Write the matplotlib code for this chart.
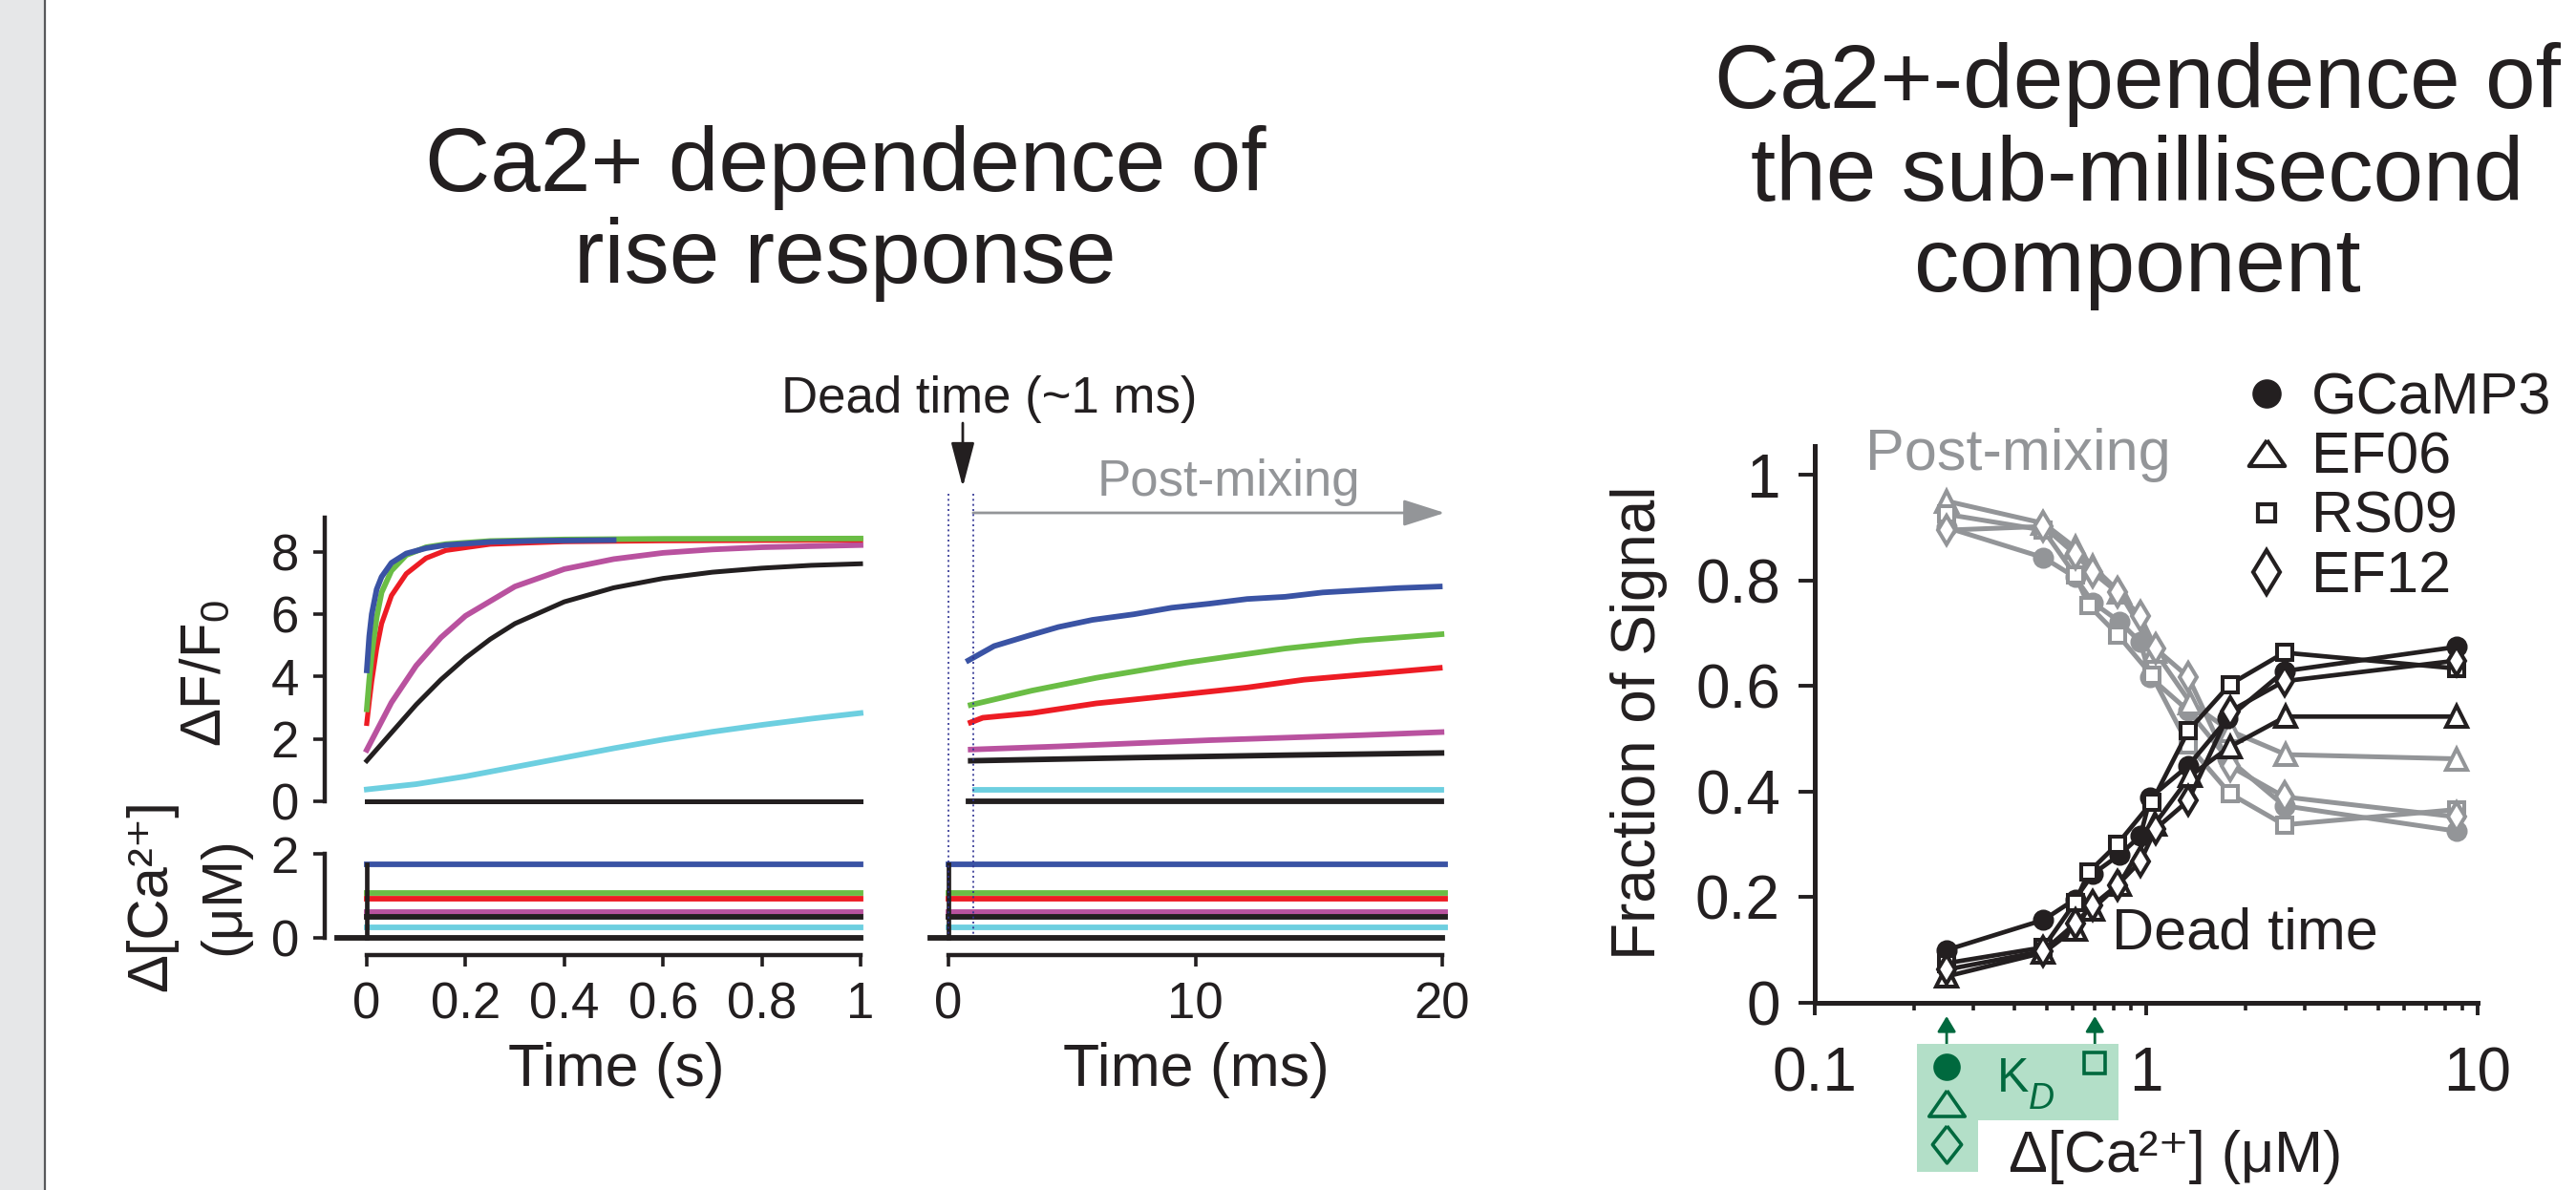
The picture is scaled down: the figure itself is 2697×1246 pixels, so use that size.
import matplotlib
matplotlib.use("Agg")
import matplotlib.pyplot as plt
import matplotlib.transforms as mtrans
from matplotlib.patches import Polygon, FancyArrowPatch, Rectangle
from matplotlib.lines import Line2D
from matplotlib.ticker import FixedLocator, NullFormatter

plt.rcParams['font.family'] = ['Liberation Sans', 'DejaVu Sans']
plt.rcParams['mathtext.fontset'] = 'custom'
plt.rcParams['mathtext.rm'] = 'Liberation Sans'
plt.rcParams['mathtext.it'] = 'Liberation Sans:italic'

INK = '#231f20'
GREY = '#939598'
NAVY = '#2e3192'
DKGREEN = '#00693e'
LTGREEN = '#b3dfc8'

# ---------------- data: slow rise, dF/F0 vs time (s)
blue_t = [0, 0.005, 0.01, 0.02, 0.03, 0.05, 0.08, 0.12, 0.16, 0.25, 0.35, 0.5]
blue_v = [4.2, 5.3, 6.0, 6.8, 7.2, 7.65, 7.95, 8.12, 8.22, 8.32, 8.36, 8.38]
green_t = [0, 0.005, 0.01, 0.02, 0.03, 0.05, 0.08, 0.12, 0.16, 0.25, 0.4, 0.6, 1.0]
green_v = [2.95, 3.9, 4.7, 5.9, 6.7, 7.4, 7.9, 8.15, 8.25, 8.35, 8.4, 8.42, 8.43]
red_t = [0, 0.005, 0.01, 0.02, 0.03, 0.05, 0.08, 0.12, 0.16, 0.25, 0.4, 0.6, 1.0]
red_v = [2.5, 3.2, 3.85, 4.9, 5.7, 6.6, 7.3, 7.8, 8.05, 8.25, 8.33, 8.36, 8.38]
mag_t = [0, 0.05, 0.1, 0.15, 0.2, 0.3, 0.4, 0.5, 0.6, 0.7, 0.8, 1.0]
mag_v = [1.65, 3.17, 4.35, 5.25, 5.95, 6.89, 7.45, 7.77, 7.97, 8.08, 8.15, 8.22]
blk_t = [0, 0.05, 0.1, 0.15, 0.2, 0.25, 0.3, 0.4, 0.5, 0.6, 0.7, 0.8, 0.9, 1.0]
blk_v = [1.3, 2.2, 3.1, 3.9, 4.6, 5.2, 5.7, 6.4, 6.85, 7.15, 7.35, 7.48, 7.57, 7.62]
cyan_t = [0, 0.1, 0.2, 0.3, 0.4, 0.5, 0.6, 0.7, 0.8, 0.9, 1.0]
cyan_v = [0.38, 0.55, 0.8, 1.1, 1.4, 1.7, 1.98, 2.23, 2.45, 2.65, 2.83]
zero_t = [0, 1.0]
zero_v = [0, 0]

# ---------------- data: first 20 ms after mixing (ms)
blue_ms = [0.81, 1.85, 3.23, 4.45, 5.83, 7.51, 9.04, 10.57, 12.1, 13.63, 15.16, 16.68, 18.21, 19.9]
blue_ms_v = [4.52, 4.98, 5.31, 5.59, 5.82, 6.0, 6.21, 6.34, 6.49, 6.56, 6.7, 6.77, 6.84, 6.89]
green_ms = [0.9, 3.38, 5.98, 9.65, 13.63, 16.68, 19.97]
green_ms_v = [3.09, 3.55, 3.96, 4.45, 4.9, 5.16, 5.36]
red_ms = [0.9, 1.39, 3.38, 5.98, 9.04, 12.1, 14.39, 17.45, 19.9]
red_ms_v = [2.53, 2.68, 2.83, 3.14, 3.39, 3.65, 3.9, 4.11, 4.28]
mag_ms = [0.9, 4.45, 10.57, 16.68, 19.97]
mag_ms_v = [1.66, 1.76, 1.96, 2.12, 2.22]
blk_ms = [0.9, 7.51, 13.63, 19.97]
blk_ms_v = [1.3, 1.4, 1.48, 1.55]
cyan_ms = [1.1, 19.97]
cyan_ms_v = [0.38, 0.38]
zero_ms = [0.8, 19.97]
zero_ms_v = [0, 0]

# calcium step size for each trace (uM), same order as colours
trace_colors = ['#3a53a4', '#6abd45', '#ed1c24', '#b9529f', INK, '#6dcfe0']
ca_step = [1.76, 1.07, 0.93, 0.61, 0.49, 0.25]
dead_ms = 1.0

# ---------------- data: fraction of signal vs d[Ca2+] (uM)
names = ['GCaMP3', 'EF06', 'RS09', 'EF12']
conc_gcamp3 = [0.25, 0.49, 0.61, 0.69, 0.83, 0.96, 1.03, 1.34, 1.76, 2.61, 8.65]
dead_gcamp3 = [0.100, 0.157, 0.196, 0.244, 0.280, 0.316, 0.389, 0.449, 0.538, 0.628, 0.674]
post_gcamp3 = [0.900, 0.843, 0.806, 0.758, 0.722, 0.683, 0.616, 0.553, 0.463, 0.373, 0.325]
conc_ef06 = [0.25, 0.49, 0.61, 0.69, 0.83, 1.06, 1.36, 1.79, 2.64, 8.65]
dead_ef06 = [0.050, 0.095, 0.140, 0.178, 0.225, 0.338, 0.430, 0.485, 0.542, 0.542]
post_ef06 = [0.950, 0.908, 0.862, 0.826, 0.778, 0.666, 0.568, 0.515, 0.470, 0.462]
conc_rs09 = [0.25, 0.49, 0.61, 0.67, 0.82, 1.04, 1.34, 1.79, 2.61, 8.65]
dead_rs09 = [0.075, 0.105, 0.190, 0.247, 0.301, 0.380, 0.515, 0.603, 0.663, 0.633]
post_rs09 = [0.925, 0.895, 0.810, 0.753, 0.697, 0.620, 0.488, 0.396, 0.337, 0.366]
conc_ef12 = [0.25, 0.49, 0.61, 0.69, 0.82, 0.96, 1.07, 1.34, 1.79, 2.61, 8.65]
dead_ef12 = [0.063, 0.098, 0.150, 0.185, 0.223, 0.268, 0.330, 0.383, 0.552, 0.609, 0.648]
post_ef12 = [0.895, 0.902, 0.850, 0.815, 0.777, 0.732, 0.670, 0.617, 0.448, 0.390, 0.352]
kd_gcamp3 = 0.25
kd_rs09 = 0.70

W, H = 2697, 1246
fig = plt.figure(figsize=(W / 100, H / 100), dpi=100)


def fx(x):
    return x / W


def fy(y):
    return 1 - y / H


def box(x0, x1, y0, y1):
    return [fx(x0), fy(y1), (x1 - x0) / W, (y1 - y0) / H]


# grey margin on the left
fig.patches.append(Rectangle((0, 0), fx(47), 1, transform=fig.transFigure,
                             facecolor='#e6e7e8', edgecolor='none', zorder=0))
fig.add_artist(Line2D([fx(47), fx(47)], [0, 1], color='#58595b', lw=1.6))

ax1 = fig.add_axes(box(384, 901, 542, 839))
ax2 = fig.add_axes(box(384, 901, 894, 982))
ax3 = fig.add_axes(box(993, 1510, 542, 839))
ax4 = fig.add_axes(box(993, 1510, 894, 982))
ax5 = fig.add_axes(box(1900, 2594, 466.6, 1050))

for ax in (ax1, ax2, ax3, ax4, ax5):
    ax.patch.set_alpha(0)
    for s in ax.spines.values():
        s.set_visible(False)
        s.set_linewidth(3.2)
        s.set_color(INK)

tick_kw = dict(length=8.6, width=2.6, pad=11, labelsize=38, color=INK, labelcolor=INK)
LW_COL = 4.2
LW_BLK = 3.6

# ---- left: whole second
ax1.set_xlim(0, 1)
ax1.set_ylim(0, 9.1)
ax1.spines['left'].set_visible(True)
ax1.spines['left'].set_position(('outward', 31.7))
ax1.set_yticks([0, 2, 4, 6, 8])
ax1.set_xticks([])
ax1.tick_params(axis='y', **tick_kw)
ax1.plot(zero_t, zero_v, color=INK, lw=LW_BLK, clip_on=False)
ax1.plot(cyan_t, cyan_v, color=trace_colors[5], lw=LW_COL, clip_on=False)
ax1.plot(blk_t, blk_v, color=INK, lw=LW_BLK, clip_on=False)
ax1.plot(mag_t, mag_v, color=trace_colors[3], lw=LW_COL, clip_on=False)
ax1.plot(red_t, red_v, color=trace_colors[2], lw=LW_COL - 0.4, clip_on=False)
ax1.plot(green_t, green_v, color=trace_colors[1], lw=LW_COL, clip_on=False)
ax1.plot(blue_t, blue_v, color=trace_colors[0], lw=LW_COL, clip_on=False)

ax2.set_xlim(0, 1)
ax2.set_ylim(0, 2)
ax2.spines['left'].set_visible(True)
ax2.spines['left'].set_position(('outward', 31.7))
ax2.spines['bottom'].set_visible(True)
ax2.spines['bottom'].set_position(('outward', 13))
ax2.set_yticks([0, 2])
ax2.set_xticks([0, 0.2, 0.4, 0.6, 0.8, 1.0])
ax2.set_xticklabels(['0', '0.2', '0.4', '0.6', '0.8', '1'])
ax2.tick_params(**tick_kw)
for c, lev in zip(trace_colors, ca_step):
    ax2.plot([0, 1], [lev, lev], color=c, lw=LW_COL, clip_on=False)
ax2.plot([-0.06, 1], [0, 0], color=INK, lw=LW_COL, clip_on=False)
ax2.plot([0, 0], [0, max(ca_step)], color=INK, lw=3.4, clip_on=False)

# ---- middle: first 20 ms
ax3.set_xlim(0, 20)
ax3.set_ylim(0, 9.1)
ax3.set_xticks([])
ax3.set_yticks([])
ms_list = [(blue_ms, blue_ms_v), (green_ms, green_ms_v), (red_ms, red_ms_v),
           (mag_ms, mag_ms_v), (blk_ms, blk_ms_v), (cyan_ms, cyan_ms_v)]
for c, (t, v) in zip(trace_colors, ms_list):
    ax3.plot(t, v, color=c, lw=LW_COL, clip_on=False)
ax3.plot(zero_ms, zero_ms_v, color=INK, lw=LW_COL, clip_on=False)

ax4.set_xlim(0, 20)
ax4.set_ylim(0, 2)
ax4.spines['bottom'].set_visible(True)
ax4.spines['bottom'].set_position(('outward', 13))
ax4.set_yticks([])
ax4.set_xticks([0, 10, 20])
ax4.tick_params(axis='x', **tick_kw)
for c, lev in zip(trace_colors, ca_step):
    ax4.plot([0, 20.1], [lev, lev], color=c, lw=LW_COL, clip_on=False)
ax4.plot([-0.75, 20], [0, 0], color=INK, lw=LW_COL, clip_on=False)
ax4.plot([0, 0], [0, max(ca_step)], color=INK, lw=3.4, clip_on=False)

# dead-time markers
bl3 = mtrans.blended_transform_factory(ax3.transData, fig.transFigure)
for xd in (0, dead_ms):
    fig.add_artist(Line2D([xd, xd], [fy(517), fy(980)], transform=bl3, color=NAVY,
                          lw=1.2, linestyle=(0, (1.2, 2.0))))
fig.add_artist(FancyArrowPatch((0.58, fy(443)), (0.58, fy(510)), transform=bl3,
                               arrowstyle='-|>,head_length=1.45,head_width=0.38',
                               mutation_scale=20, color=INK, lw=2.0, shrinkA=0, shrinkB=0))
fig.add_artist(FancyArrowPatch((dead_ms, fy(537)), (20.1, fy(537)), transform=bl3,
                               arrowstyle='-|>,head_length=1.35,head_width=0.43',
                               mutation_scale=20, color=GREY, lw=2.0, shrinkA=0, shrinkB=0))
fig.text(fx(1036), fy(432), 'Dead time (~1 ms)', fontsize=38, ha='center', va='baseline', color=INK)
fig.text(fx(1286), fy(519), 'Post-mixing', fontsize=38, ha='center', va='baseline', color=GREY)

# axis labels for left/middle
fig.text(fx(215), fy(705), r'ΔF/F$_\mathregular{0}$', fontsize=43, rotation=90,
         ha='center', va='center', color=INK)
fig.text(fx(159), fy(938), 'Δ[Ca²⁺]', fontsize=43, rotation=90,
         ha='center', va='center', color=INK)
fig.text(fx(235), fy(938), '(μM)', fontsize=43, rotation=90, ha='center', va='center', color=INK)
fig.text(fx(645), fy(1137), 'Time (s)', fontsize=45, ha='center', va='baseline', color=INK)
fig.text(fx(1252), fy(1137), 'Time (ms)', fontsize=45, ha='center', va='baseline', color=INK)

# titles
fig.text(fx(885), fy(200), 'Ca2+ dependence of', fontsize=68, ha='center', va='baseline', color=INK)
fig.text(fx(885), fy(296), 'rise response', fontsize=68, ha='center', va='baseline', color=INK)
for txt, yb in zip(['Ca2+-dependence of', 'the sub-millisecond', 'component'], [113, 210, 305]):
    fig.text(fx(2238), fy(yb), txt, fontsize=68, ha='center', va='baseline', color=INK)

# ---- right: fraction of signal
ax5.set_xscale('log')
ax5.set_xlim(0.1, 10)
ax5.set_ylim(0, 1.055)
for s in ('left', 'bottom'):
    ax5.spines[s].set_visible(True)
    ax5.spines[s].set_linewidth(3.6)
ax5.yaxis.set_major_locator(FixedLocator([0, 0.2, 0.4, 0.6, 0.8, 1.0]))
ax5.set_yticklabels(['0', '0.2', '0.4', '0.6', '0.8', '1'])
ax5.xaxis.set_major_locator(FixedLocator([0.1, 1, 10]))
ax5.set_xticklabels(['0.1', '1', '10'])
ax5.xaxis.set_minor_locator(FixedLocator([0.2, 0.3, 0.4, 0.5, 0.6, 0.7, 0.8, 0.9,
                                          2, 3, 4, 5, 6, 7, 8, 9]))
ax5.xaxis.set_minor_formatter(NullFormatter())
ax5.tick_params(axis='y', length=12, width=2.8, pad=14, labelsize=46, color=INK, labelcolor=INK)
ax5.tick_params(axis='x', which='major', length=9.5, width=2.8, pad=23, labelsize=46,
                color=INK, labelcolor=INK)
ax5.tick_params(axis='x', which='minor', length=5.5, width=2.6, color=INK)

series = [(conc_gcamp3, dead_gcamp3, post_gcamp3, 'o', 13, True),
          (conc_ef06, dead_ef06, post_ef06, '^', 16, False),
          (conc_rs09, dead_rs09, post_rs09, 's', 12, False),
          (conc_ef12, dead_ef12, post_ef12, 'd', 15, False)]
for conc, dead, post, mk, ms, filled in series:
    ax5.plot(conc, post, color=GREY, lw=3.6, marker=mk, ms=ms, mew=2.9,
             mec=GREY, mfc=GREY if filled else 'white', clip_on=False, zorder=3)
for conc, dead, post, mk, ms, filled in series:
    ax5.plot(conc, dead, color=INK, lw=3.4, marker=mk, ms=ms, mew=2.9,
             mec=INK, mfc=INK if filled else 'white', clip_on=False, zorder=4)

fig.text(fx(2113), fy(492), 'Post-mixing', fontsize=44, ha='center', va='baseline', color=GREY)
fig.text(fx(2211), fy(994), 'Dead time', fontsize=44, ha='left', va='baseline', color=INK)
fig.text(fx(1716), fy(757), 'Fraction of Signal', fontsize=46, rotation=90,
         ha='center', va='center', color=INK)
fig.text(fx(2278), fy(1227), 'Δ[Ca²⁺] (μM)', fontsize=44,
         ha='center', va='baseline', color=INK)

# legend
wide_tri = [(0, 0.72), (-1, -0.72), (1, -0.72), (0, 0.72)]
leg_markers = [('o', 19, INK), (wide_tri, 27, 'white'), ('s', 13, 'white'), ('d', 23, 'white')]
for (mk, ms, fc), name, yb in zip(leg_markers, names, [433, 495, 558, 620]):
    fig.add_artist(Line2D([fx(2373)], [fy(yb - 21)], transform=fig.transFigure, marker=mk,
                          ms=ms, mew=3.0, mec=INK, mfc=fc, linestyle='none'))
    fig.text(fx(2420), fy(yb), name, fontsize=44, ha='left', va='baseline', color=INK)

# K_D box below the axis
kd_poly = [(2007, 1093), (2218, 1093), (2218, 1173), (2071, 1173), (2071, 1227), (2007, 1227)]
fig.patches.append(Polygon([(fx(x), fy(y)) for x, y in kd_poly], closed=True,
                           transform=fig.transFigure, facecolor=LTGREEN, edgecolor='none', zorder=1))
bl5 = mtrans.blended_transform_factory(ax5.transData, fig.transFigure)
for kd in (kd_gcamp3, kd_rs09):
    fig.add_artist(FancyArrowPatch((kd, fy(1093)), (kd, fy(1064)), transform=bl5,
                                   arrowstyle='-|>,head_length=0.75,head_width=0.45',
                                   mutation_scale=13, color=DKGREEN, lw=2.0,
                                   shrinkA=0, shrinkB=0))
wide_dia = [(0, 1), (0.78, 0), (0, -1), (-0.78, 0), (0, 1)]
kd_marks = [(kd_gcamp3, 1117, 'o', 18, DKGREEN), (kd_gcamp3, 1155, wide_tri, 27, LTGREEN),
            (kd_gcamp3, 1198, wide_dia, 28, LTGREEN), (kd_rs09, 1113, 's', 16, LTGREEN)]
for xk, yk, mk, ms, fc in kd_marks:
    fig.add_artist(Line2D([xk], [fy(yk)], transform=bl5, marker=mk, ms=ms, mew=2.6,
                          mec=DKGREEN, mfc=fc, linestyle='none', zorder=3))
fig.text(fx(2091), fy(1143), 'K', fontsize=36, ha='left', va='baseline', color=DKGREEN, zorder=3)
fig.text(fx(2124), fy(1161), 'D', fontsize=27, style='italic', ha='left', va='baseline',
         color=DKGREEN, zorder=3)

fig.savefig('out.png', dpi=100)
